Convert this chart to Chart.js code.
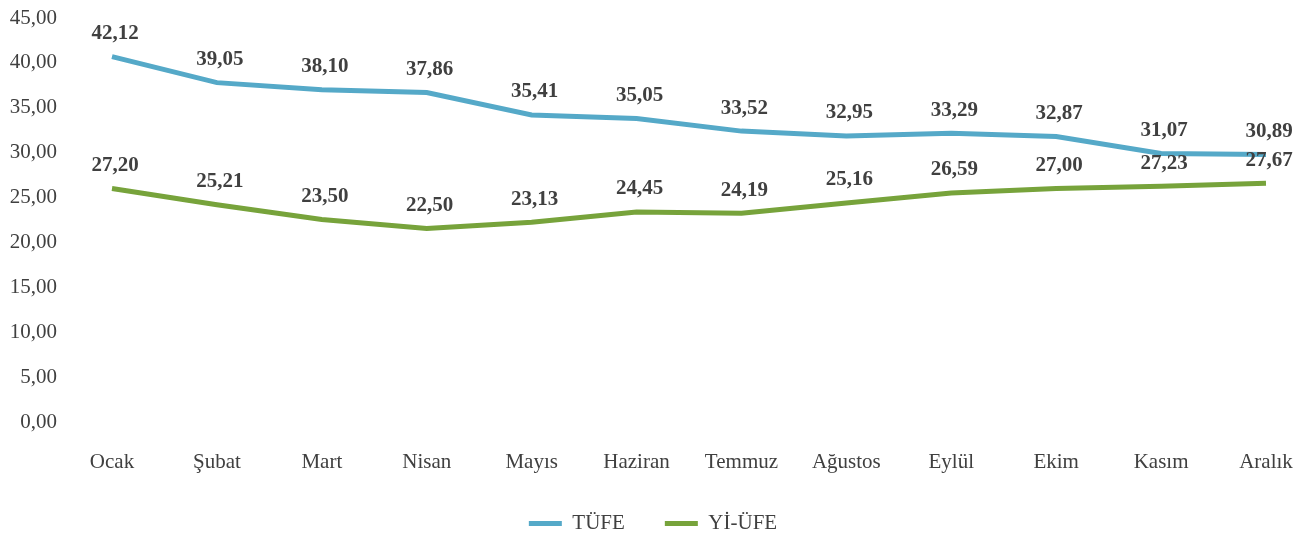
<!DOCTYPE html>
<html>
<head>
<meta charset="utf-8">
<script src="https://cdn.jsdelivr.net/npm/chart.js@4.4.0/dist/chart.umd.min.js"></script>
<style>
  html, body { margin: 0; padding: 0; background: #fff; }
  #wrap { width: 1311px; height: 533px; }
</style>
</head>
<body>
<div id="wrap"><canvas id="chart" width="1311" height="533"></canvas></div>
<script>
// Months on the x axis
const months = ['Ocak', 'Şubat', 'Mart', 'Nisan', 'Mayıs', 'Haziran', 'Temmuz', 'Ağustos', 'Eylül', 'Ekim', 'Kasım', 'Aralık'];

// Line values as drawn in the picture
const tufe = [40.7, 37.8, 37.0, 36.7, 34.2, 33.8, 32.4, 31.85, 32.15, 31.8, 29.9, 29.8];
const yiufe = [26.0, 24.2, 22.55, 21.55, 22.25, 23.4, 23.25, 24.4, 25.5, 26.0, 26.25, 26.6];

// Value labels printed above the lines
const tufeLabels = ['42,12', '39,05', '38,10', '37,86', '35,41', '35,05', '33,52', '32,95', '33,29', '32,87', '31,07', '30,89'];
const yiufeLabels = ['27,20', '25,21', '23,50', '22,50', '23,13', '24,45', '24,19', '25,16', '26,59', '27,00', '27,23', '27,67'];

const blue = '#55A9C8';
const green = '#77A33B';
const serif = "'Liberation Serif', 'DejaVu Serif', serif";

// Draw the value labels above each point
const valueLabels = {
  id: 'valueLabels',
  afterDatasetsDraw(chart) {
    const ctx = chart.ctx;
    ctx.save();
    ctx.font = 'bold 21px ' + serif;
    ctx.fillStyle = '#404040';
    ctx.textAlign = 'center';
    ctx.textBaseline = 'middle';
    chart.data.datasets.forEach((ds, i) => {
      const meta = chart.getDatasetMeta(i);
      meta.data.forEach((pt, j) => {
        ctx.fillText(ds.valueLabels[j], pt.x + 3, pt.y - 23);
      });
    });
    ctx.restore();
  }
};

// Keep the legend low and compact
const legendHeight = {
  id: 'legendHeight',
  beforeInit(chart) {
    const fit = chart.legend.fit;
    chart.legend.fit = function() {
      fit.bind(chart.legend)();
      this.height = 60;
    };
  }
};

const ctx = document.getElementById('chart').getContext('2d');
new Chart(ctx, {
  type: 'line',
  data: {
    labels: months,
    datasets: [{
      label: 'TÜFE',
      data: tufe,
      valueLabels: tufeLabels,
      borderColor: blue,
      backgroundColor: blue,
      borderWidth: 5,
      pointRadius: 0,
      tension: 0
    }, {
      label: 'Yİ-ÜFE',
      data: yiufe,
      valueLabels: yiufeLabels,
      borderColor: green,
      backgroundColor: green,
      borderWidth: 5,
      pointRadius: 0,
      tension: 0
    }]
  },
  options: {
    responsive: false,
    animation: false,
    layout: { padding: { top: 18, right: 5, left: 0, bottom: 0 } },
    plugins: {
      tooltip: { enabled: false },
      legend: {
        position: 'bottom',
        labels: {
          boxWidth: 33,
          boxHeight: 5,
          padding: 40,
          color: '#404040',
          font: { family: serif, size: 21 },
          generateLabels: chart => Chart.defaults.plugins.legend.labels.generateLabels(chart)
            .map(item => Object.assign(item, { lineWidth: 0 }))
        }
      }
    },
    scales: {
      x: {
        offset: false,
        grid: { display: false, drawTicks: false },
        border: { display: false },
        ticks: {
          padding: 28,
          maxRotation: 0,
          autoSkip: false,
          color: '#404040',
          font: { family: serif, size: 21 }
        },
        afterFit: scale => {
          scale.paddingLeft = 20;
          scale.paddingRight = 45;
          scale.height = 51;
        }
      },
      y: {
        min: 0,
        max: 45,
        grid: { display: false, drawTicks: false },
        border: { display: false },
        ticks: {
          stepSize: 5,
          padding: 55,
          color: '#404040',
          font: { family: serif, size: 21 },
          callback: v => v.toFixed(2).replace('.', ',')
        },
        afterFit: scale => {
          scale.paddingTop = 10;
          scale.paddingBottom = 10;
          scale.width = 112;
        }
      }
    }
  },
  plugins: [valueLabels, legendHeight]
});
</script>
</body>
</html>
